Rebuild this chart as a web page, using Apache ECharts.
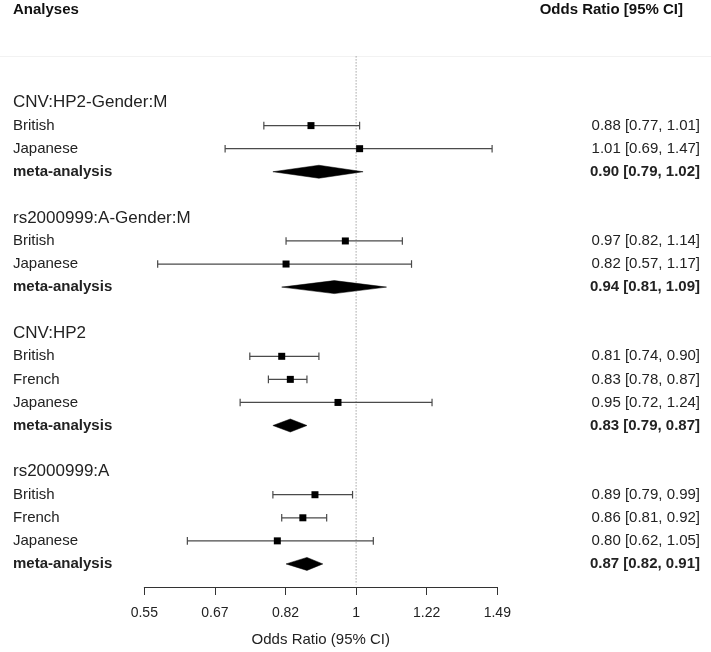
<!DOCTYPE html>
<html>
<head>
<meta charset="utf-8">
<script src="https://cdn.jsdelivr.net/npm/echarts@6/dist/echarts.min.js"></script>
<style>
html,body{margin:0;padding:0;background:#fff;}
#chart{width:711px;height:652px;}
</style>
</head>
<body>
<div id="chart"></div>
<script>
// ---- data (row order from top) ----
const rowLabels = [
  'CNV:HP2-Gender:M', 'British', 'Japanese', 'meta-analysis', '',
  'rs2000999:A-Gender:M', 'British', 'Japanese', 'meta-analysis', '',
  'CNV:HP2', 'British', 'French', 'Japanese', 'meta-analysis', '',
  'rs2000999:A', 'British', 'French', 'Japanese', 'meta-analysis'
];
const rowKinds = [
  'head', 'study', 'study', 'meta', 'blank',
  'head', 'study', 'study', 'meta', 'blank',
  'head', 'study', 'study', 'study', 'meta', 'blank',
  'head', 'study', 'study', 'study', 'meta'
];
const estimates = [
  null, 0.88, 1.01, 0.90, null,
  null, 0.97, 0.82, 0.94, null,
  null, 0.81, 0.83, 0.95, 0.83, null,
  null, 0.89, 0.86, 0.80, 0.87
];
const lowerCI = [
  null, 0.77, 0.69, 0.79, null,
  null, 0.82, 0.57, 0.81, null,
  null, 0.74, 0.78, 0.72, 0.79, null,
  null, 0.79, 0.81, 0.62, 0.82
];
const upperCI = [
  null, 1.01, 1.47, 1.02, null,
  null, 1.14, 1.17, 1.09, null,
  null, 0.90, 0.87, 1.24, 0.87, null,
  null, 0.99, 0.92, 1.05, 0.91
];
const tickLabels = ['0.55', '0.67', '0.82', '1', '1.22', '1.49'];
const xAxisTitle = 'Odds Ratio (95% CI)';
const leftHeader = 'Analyses';
const rightHeader = 'Odds Ratio [95% CI]';

// ---- build ----
const FONT = '"Liberation Sans", Arial, Helvetica, sans-serif';
const ln = Math.log;

const studyRows = [], metaRows = [], squareData = [], textRows = [];
rowLabels.forEach((lab, i) => {
  if (rowKinds[i] === 'study') {
    studyRows.push([ln(lowerCI[i]), ln(upperCI[i]), i]);
    squareData.push([ln(estimates[i]), i]);
  } else if (rowKinds[i] === 'meta') {
    metaRows.push([ln(lowerCI[i]), ln(upperCI[i]), ln(estimates[i]), i]);
  }
  if (rowKinds[i] !== 'blank') textRows.push([0, i]);
});

const chart = echarts.init(document.getElementById('chart'), null, {renderer: 'canvas'});

const option = {
  animation: false,
  backgroundColor: '#fff',
  grid: {left: 144.3, right: 213.7, top: 56.4, bottom: 64.7},
  xAxis: {
    type: 'value', min: -0.6, max: 0.4, interval: 0.2,
    name: xAxisTitle, nameLocation: 'middle', nameGap: 45,
    nameTextStyle: {fontFamily: FONT, fontSize: 15, color: '#222'},
    axisLine: {show: true, onZero: false, lineStyle: {color: '#333', width: 1}},
    axisTick: {show: true, length: 8, lineStyle: {color: '#333'}},
    axisLabel: {
      margin: 19, fontFamily: FONT, fontSize: 14, color: '#222',
      formatter: v => tickLabels[Math.round((v + 0.6) / 0.2)]
    },
    splitLine: {show: false}
  },
  yAxis: {type: 'value', min: -2, max: 21, inverse: true, show: false},
  graphic: [
    {type: 'text', left: 13, top: 2, style: {text: leftHeader, fontFamily: FONT, fontSize: 15, fontWeight: 'bold', fill: '#111'}},
    {type: 'text', right: 28, top: 2, style: {text: rightHeader, fontFamily: FONT, fontSize: 15, fontWeight: 'bold', fill: '#111'}},
    {type: 'line', shape: {x1: 0, y1: 56.5, x2: 711, y2: 56.5}, style: {stroke: '#f2f2f2', lineWidth: 1}, silent: true}
  ],
  series: [
    // reference line at OR = 1
    {
      type: 'custom', clip: false, data: [[0, -2, 20.9]],
      renderItem: (params, api) => {
        const p1 = api.coord([api.value(0), api.value(1)]);
        const p2 = api.coord([api.value(0), api.value(2)]);
        return {type: 'line', shape: {x1: p1[0], y1: p1[1], x2: p2[0], y2: p2[1]},
          style: {stroke: '#777', lineWidth: 1, lineDash: [1, 2]}};
      }
    },
    // CI lines with whiskers
    {
      type: 'custom', clip: false, data: studyRows,
      renderItem: (params, api) => {
        const a = api.coord([api.value(0), api.value(2)]);
        const b = api.coord([api.value(1), api.value(2)]);
        const h = 3.8, st = {stroke: '#4a4a4a', lineWidth: 1.2};
        return {type: 'group', children: [
          {type: 'line', shape: {x1: a[0], y1: a[1], x2: b[0], y2: b[1]}, style: st},
          {type: 'line', shape: {x1: a[0], y1: a[1] - h, x2: a[0], y2: a[1] + h}, style: st},
          {type: 'line', shape: {x1: b[0], y1: b[1] - h, x2: b[0], y2: b[1] + h}, style: st}
        ]};
      }
    },
    // point estimates
    {
      type: 'scatter', data: squareData, symbol: 'rect', symbolSize: 7,
      itemStyle: {color: '#000', opacity: 1}, z: 5
    },
    // meta-analysis diamonds
    {
      type: 'custom', clip: false, data: metaRows,
      renderItem: (params, api) => {
        const l = api.coord([api.value(0), api.value(3)]);
        const r = api.coord([api.value(1), api.value(3)]);
        const m = api.coord([api.value(2), api.value(3)]);
        const h = 6.5;
        return {type: 'polygon', shape: {points: [[l[0], l[1]], [m[0], m[1] - h], [r[0], r[1]], [m[0], m[1] + h]]},
          style: {fill: '#000', stroke: '#000', lineWidth: 0.5}};
      }
    },
    // left labels
    {
      type: 'custom', clip: false, data: textRows, silent: true,
      renderItem: (params, api) => {
        const i = api.value(1);
        const y = api.coord([0, i])[1];
        const kind = rowKinds[i];
        return {type: 'text', style: {
          x: 13, y: y, text: rowLabels[i], fill: '#222',
          fontFamily: FONT,
          fontSize: kind === 'head' ? 17 : 15,
          fontWeight: kind === 'meta' ? 'bold' : 'normal',
          textAlign: 'left', textVerticalAlign: 'middle'
        }};
      }
    },
    // right estimate text
    {
      type: 'custom', clip: false, data: textRows.filter(d => rowKinds[d[1]] !== 'head'), silent: true,
      renderItem: (params, api) => {
        const i = api.value(1);
        const y = api.coord([0, i])[1];
        const txt = estimates[i].toFixed(2) + ' [' + lowerCI[i].toFixed(2) + ', ' + upperCI[i].toFixed(2) + ']';
        return {type: 'text', style: {
          x: 700, y: y, text: txt, fill: '#222',
          fontFamily: FONT, fontSize: 15,
          fontWeight: rowKinds[i] === 'meta' ? 'bold' : 'normal',
          textAlign: 'right', textVerticalAlign: 'middle'
        }};
      }
    }
  ]
};
chart.setOption(option);
</script>
</body>
</html>
